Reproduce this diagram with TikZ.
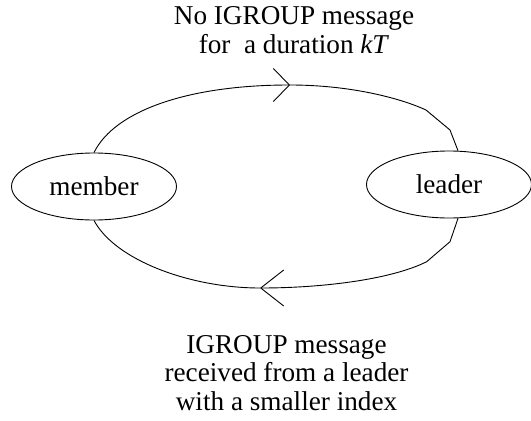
\documentclass[tikz,border=0pt]{standalone}
\usepackage{fontspec}
\setmainfont{Liberation Serif}
\usetikzlibrary{arrows.meta,shapes.geometric}

\begin{document}
\begin{tikzpicture}[x=1pt,y=-1pt,line width=0.9pt,
    state/.style={draw, ellipse, inner sep=0pt, minimum width=165pt, minimum height=67pt},
    label/.style={align=center, anchor=base, inner sep=0pt}]
  \fontsize{27.2}{28.5}\selectfont
  \useasboundingbox (0,0) rectangle (531,421);

  % States
  \node[state] (member) at (94,186.5) {member};
  \node[state] (leader) at (449,184.5) {leader};

  % Arrow points
  \coordinate (top) at (290,85);
  \coordinate (bot) at (260,288);

  % member -> leader
  \draw[-{Straight Barb[length=16pt,width=33pt]}] (member.north) .. controls (115,110) and (190,85) .. (top);
  \draw (top) .. controls (350,85) and (400,98) .. (426,110) -- (450,130) -- (leader.75);

  % leader -> member
  \draw[-{Straight Barb[length=23pt,width=36pt]}] (leader.-75) -- (450,241.7) -- (426.7,261.7) .. controls (390,280) and (320,288) .. (bot);
  \draw (bot) .. controls (190,288) and (115,260) .. (member.south);

  % Labels
  \node[label] (toptext) at (294,53.3) {No IGROUP message\\ for\ \ a duration \textit{kT}};
  \node[label] (bottext) at (286.5,410) {IGROUP message\\ received from a leader\\ with a smaller index};
\end{tikzpicture}
\end{document}
